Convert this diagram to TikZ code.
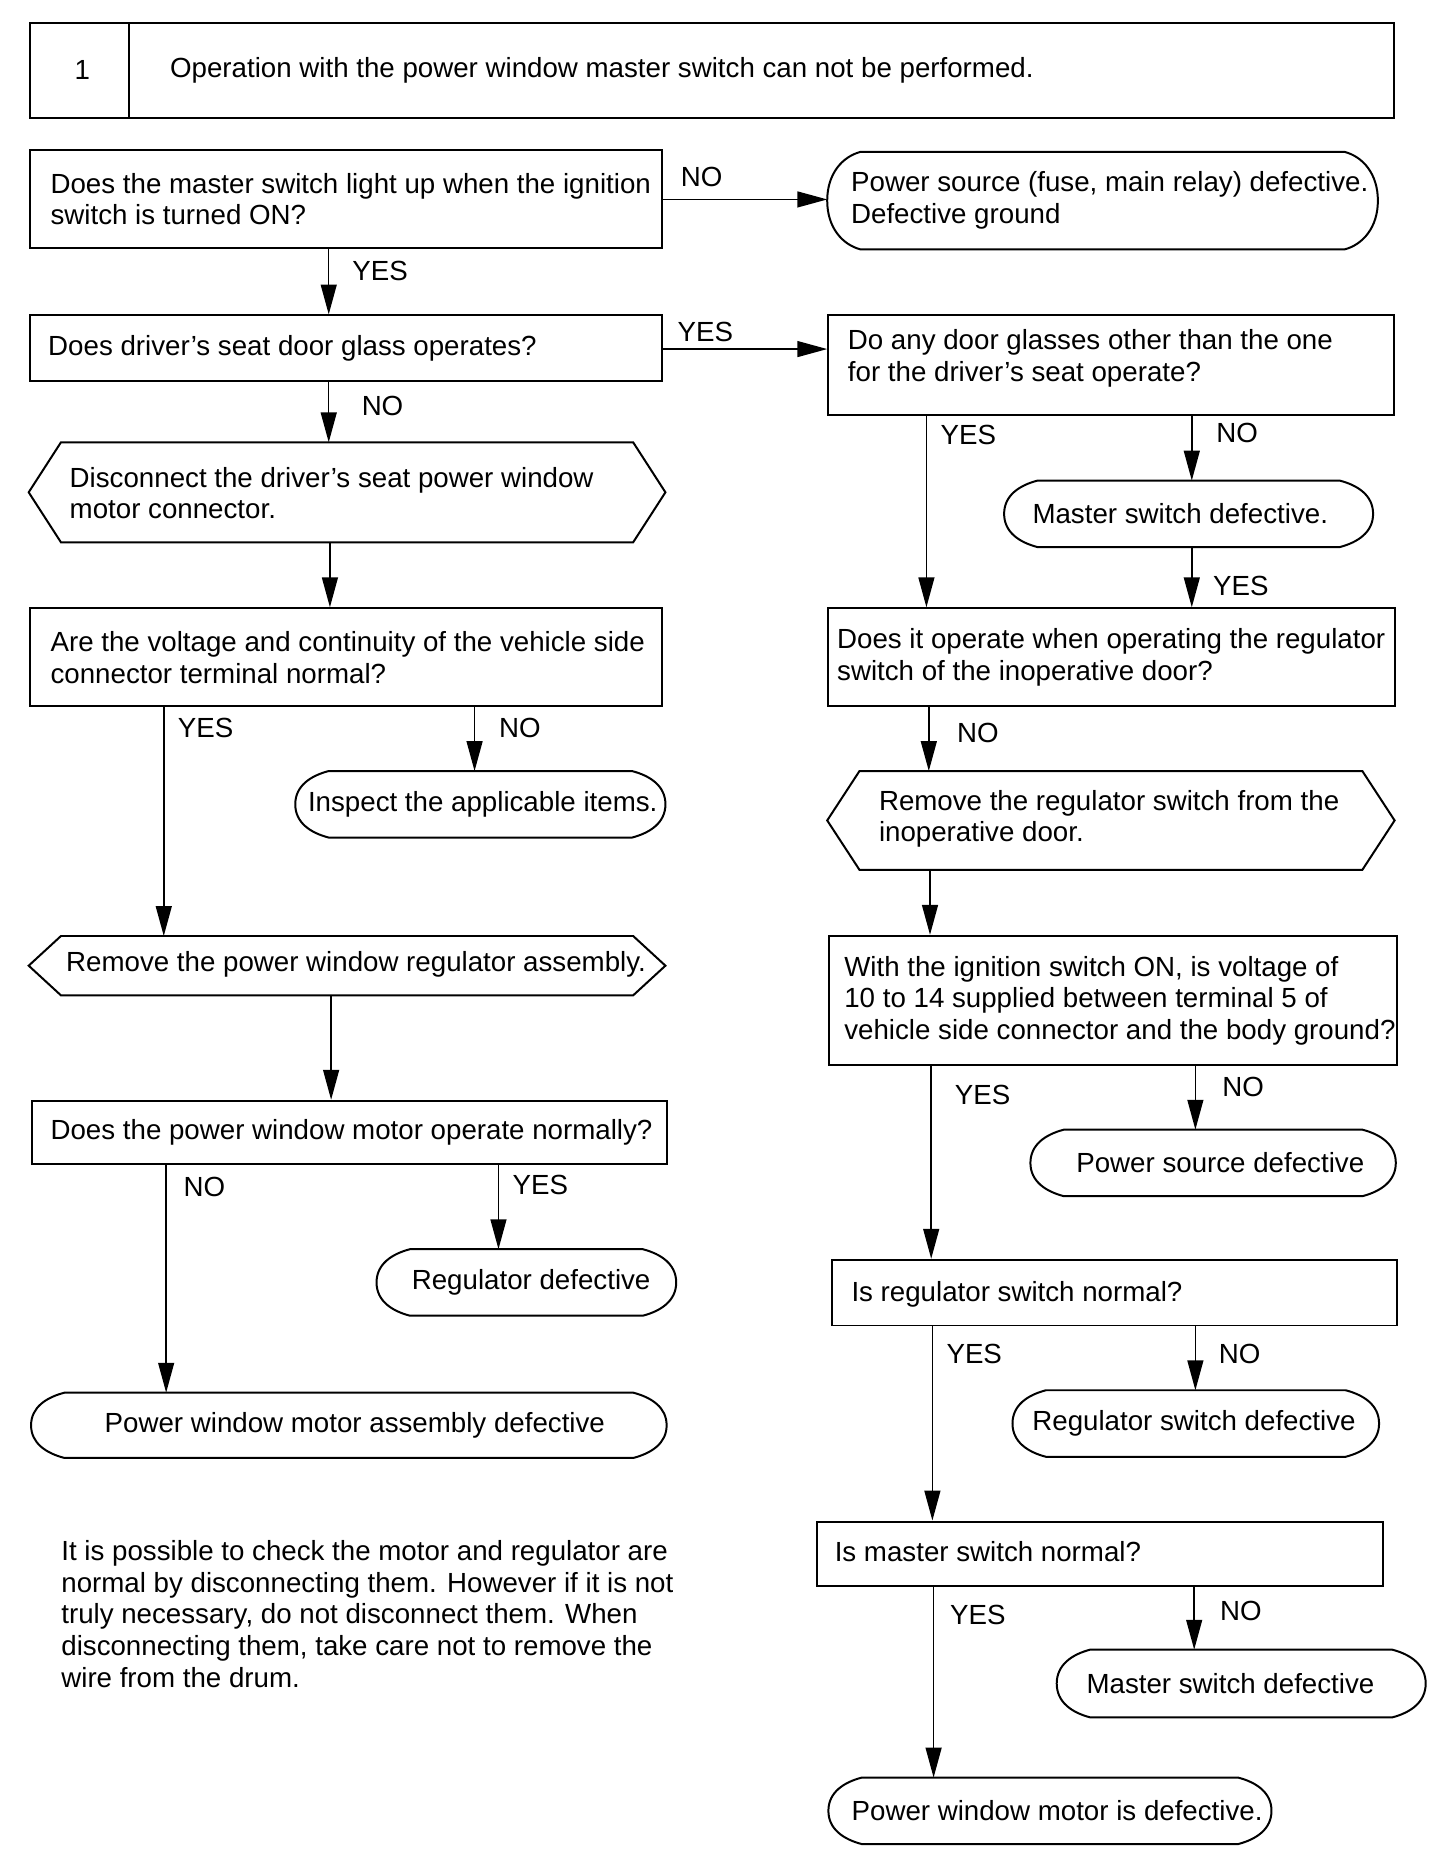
\documentclass[tikz,border=0pt]{standalone}
\usepackage{fontspec}
\setmainfont{Liberation Sans}
\usetikzlibrary{calc,arrows.meta}
\newcommand\dgfont{\fontsize{13.9pt}{15.9pt}\selectfont}
\newcommand\trmin{28}
\newcommand\hxin{27}
\newcommand\termshape[1]{%
  \draw[outl] ($(#1.north west)+(\trmin,0)$) -- ($(#1.north east)+(-\trmin,0)$)
   .. controls ($(#1.north east)+(-0.45*\trmin,4)$) and ($(#1.east)!0.55!(#1.north east)$) .. (#1.east)
   .. controls ($(#1.east)!0.55!(#1.south east)$) and ($(#1.south east)+(-0.45*\trmin,-4)$) .. ($(#1.south east)+(-\trmin,0)$)
   -- ($(#1.south west)+(\trmin,0)$)
   .. controls ($(#1.south west)+(0.45*\trmin,-4)$) and ($(#1.west)!0.55!(#1.south west)$) .. (#1.west)
   .. controls ($(#1.west)!0.55!(#1.north west)$) and ($(#1.north west)+(0.45*\trmin,4)$) .. ($(#1.north west)+(\trmin,0)$) -- cycle;}
\newcommand\hexshape[1]{%
  \draw[outl] (#1.west) -- ($(#1.north west)+(\hxin,0)$) -- ($(#1.north east)+(-\hxin,0)$) -- (#1.east)
   -- ($(#1.south east)+(-\hxin,0)$) -- ($(#1.south west)+(\hxin,0)$) -- cycle;}
\begin{document}
\begin{tikzpicture}[x=0.6pt,y=-0.6pt,
  sz/.style 2 args={minimum width=#1*0.6pt,minimum height=#2*0.6pt},
  frame/.style={draw,line width=1pt,rectangle,inner sep=0pt,anchor=north west,font=\dgfont},
  ghost/.style={rectangle,inner sep=0pt,anchor=north west},
  outl/.style={line width=1pt},
  txt/.style={font=\dgfont,align=left,inner sep=0pt,anchor=west},
  term/.style={rectangle,inner sep=0pt,anchor=north west,font=\dgfont,align=center},
  lbl/.style={font=\dgfont,inner sep=0pt},
  arr/.style={line width=0.75pt,-{Triangle[length=15pt,width=8pt]}}]
\useasboundingbox (0,0) rectangle (1218,1567.7);

% header
\node[frame,sz={83}{80}] (num) at (24,18) {\hspace*{3pt}1};
\node[frame,sz={1058}{80}] (title) at (107,18) {};
\node[txt] (titlet) at (142,59) {Operation with the power window master switch can not be performed.};

% left column
\node[frame,sz={529}{82}] (b1) at (24,125) {};
\node[txt] (b1t) at (42,166.5) {Does the master switch light up when the ignition\\switch is turned ON?};
\node[term,sz={460}{81},align=left] (t1) at (692,127) {\hspace*{7.2pt}Power source (fuse, main relay) defective.\\\hspace*{7.2pt}Defective ground};
\node[frame,sz={529}{55}] (b2) at (24,263) {};
\node[txt] (b2t) at (40,291) {Does driver’s seat door glass operates?};
\node[ghost,sz={532}{83}] (h1) at (24,370) {};
\node[txt] (h1t) at (58,412.5) {Disconnect the driver’s seat power window\\motor connector.};
\node[frame,sz={529}{82}] (b3) at (24,508) {};
\node[txt] (b3t) at (42,550) {Are the voltage and continuity of the vehicle side\\connector terminal normal?};
\node[term,sz={309}{55}] (t2) at (247,645) {\hspace*{2.4pt}Inspect the applicable items.};
\node[ghost,sz={532}{49}] (h2) at (24,783) {};
\node[txt] (h2t) at (55,807) {Remove the power window regulator assembly.};
\node[frame,sz={531}{53}] (b4) at (26,920) {};
\node[txt] (b4t) at (42,947) {Does the power window motor operate normally?};
\node[term,sz={250}{55}] (t3) at (315,1045) {\hspace*{4.8pt}Regulator defective};
\node[term,sz={531}{54}] (t4) at (26,1165) {\hspace*{6pt}Power window motor assembly defective};
\node[txt] (note) at (51,1350) {It is possible to check the motor and regulator are\\normal by disconnecting them. However if it is not\\truly necessary, do not disconnect them. When\\disconnecting them, take care not to remove the\\wire from the drum.};

% right column
\node[frame,sz={473}{83}] (r1) at (692,263) {};
\node[txt] (r1t) at (709,299.5) {Do any door glasses other than the one\\for the driver’s seat operate?};
\node[term,sz={308}{55}] (t5) at (840,402) {\hspace*{-8.4pt}Master switch defective.};
\node[frame,sz={474}{82}] (r2) at (692,508) {};
\node[txt] (r2t) at (700,550) {Does it operate when operating the regulator\\switch of the inoperative door?};
\node[ghost,sz={474}{82}] (h3) at (692,645) {};
\node[txt] (h3t) at (735,685) {Remove the regulator switch from the\\inoperative door.};
\node[frame,sz={475}{108}] (r3) at (693,782) {};
\node[txt] (r3t) at (706,837) {With the ignition switch ON, is voltage of\\10 to 14 supplied between terminal 5 of\\vehicle side connector and the body ground?};
\node[term,sz={305}{55}] (t6) at (862,945) {\hspace*{7.2pt}Power source defective};
\node[frame,sz={473}{55}] (r4) at (695,1053) {};
\node[txt] (r4t) at (712,1083) {Is regulator switch normal?};
\node[term,sz={306}{55}] (t7) at (847,1163) {\hspace*{-1.8pt}Regulator switch defective};
\node[frame,sz={473}{54}] (r5) at (683,1272) {};
\node[txt] (r5t) at (698,1298) {Is master switch normal?};
\node[term,sz={308}{56}] (t8) at (884,1380) {\hspace*{-10.8pt}Master switch defective};
\node[term,sz={370}{55}] (t9) at (693,1487) {\hspace*{7.2pt}Power window motor is defective.};

% outlines
\termshape{t1}\termshape{t2}\termshape{t3}\termshape{t4}\termshape{t5}
\termshape{t6}\termshape{t7}\termshape{t8}\termshape{t9}
\hexshape{h1}\hexshape{h2}\hexshape{h3}

% x positions of vertical connectors
\coordinate (xa) at (275,0);
\coordinate (xb) at (276,0);
\coordinate (xc) at (137,0);
\coordinate (xd) at (397,0);
\coordinate (xe) at (277,0);
\coordinate (xf) at (139,0);
\coordinate (xg) at (417,0);
\coordinate (xh) at (775,0);
\coordinate (xi) at (997,0);
\coordinate (xj) at (777,0);
\coordinate (xk) at (778,0);
\coordinate (xl) at (779,0);
\coordinate (xm) at (1000,0);
\coordinate (xn) at (780,0);
\coordinate (xo) at (781,0);
\coordinate (xp) at (999,0);
\coordinate (yq) at (0,292);

% connectors
\draw[arr] (b1.east) -- (b1.east -| t1.west);
\draw[arr] (b1.south -| xa) -- (b2.north -| xa);
\draw[arr] (b2.east |- yq) -- (r1.west |- yq);
\draw[arr] (b2.south -| xa) -- (h1.north -| xa);
\draw[arr] (h1.south -| xb) -- (b3.north -| xb);
\draw[arr] (b3.south -| xc) -- (h2.north -| xc);
\draw[arr] (b3.south -| xd) -- (t2.north -| xd);
\draw[arr] (h2.south -| xe) -- (b4.north -| xe);
\draw[arr] (b4.south -| xf) -- (t4.north -| xf);
\draw[arr] (b4.south -| xg) -- (t3.north -| xg);
\draw[arr] (r1.south -| xh) -- (r2.north -| xh);
\draw[arr] (r1.south -| xi) -- (t5.north -| xi);
\draw[arr] (t5.south -| xi) -- (r2.north -| xi);
\draw[arr] (r2.south -| xj) -- (h3.north -| xj);
\draw[arr] (h3.south -| xk) -- (r3.north -| xk);
\draw[arr] (r3.south -| xl) -- (r4.north -| xl);
\draw[arr] (r3.south -| xm) -- (t6.north -| xm);
\draw[arr] (r4.south -| xn) -- (r5.north -| xn);
\draw[arr] (r4.south -| xm) -- (t7.north -| xm);
\draw[arr] (r5.south -| xo) -- (t9.north -| xo);
\draw[arr] (r5.south -| xp) -- (t8.north -| xp);

% labels
\node[lbl] (l1) at (587,148) {NO};
\node[lbl] (l2) at (318,227) {YES};
\node[lbl] (l3) at (590,278) {YES};
\node[lbl] (l4) at (320,340) {NO};
\node[lbl] (l5) at (172,609) {YES};
\node[lbl] (l6) at (435,609) {NO};
\node[lbl] (l7) at (171,993) {NO};
\node[lbl] (l8) at (452,991) {YES};
\node[lbl] (l9) at (810,364) {YES};
\node[lbl] (l10) at (1035,362) {NO};
\node[lbl] (l11) at (1038,490) {YES};
\node[lbl] (l12) at (818,613) {NO};
\node[lbl] (l13) at (822,916) {YES};
\node[lbl] (l14) at (1040,909) {NO};
\node[lbl] (l15) at (815,1133) {YES};
\node[lbl] (l16) at (1037,1133) {NO};
\node[lbl] (l17) at (818,1351) {YES};
\node[lbl] (l18) at (1038,1348) {NO};
\end{tikzpicture}
\end{document}
